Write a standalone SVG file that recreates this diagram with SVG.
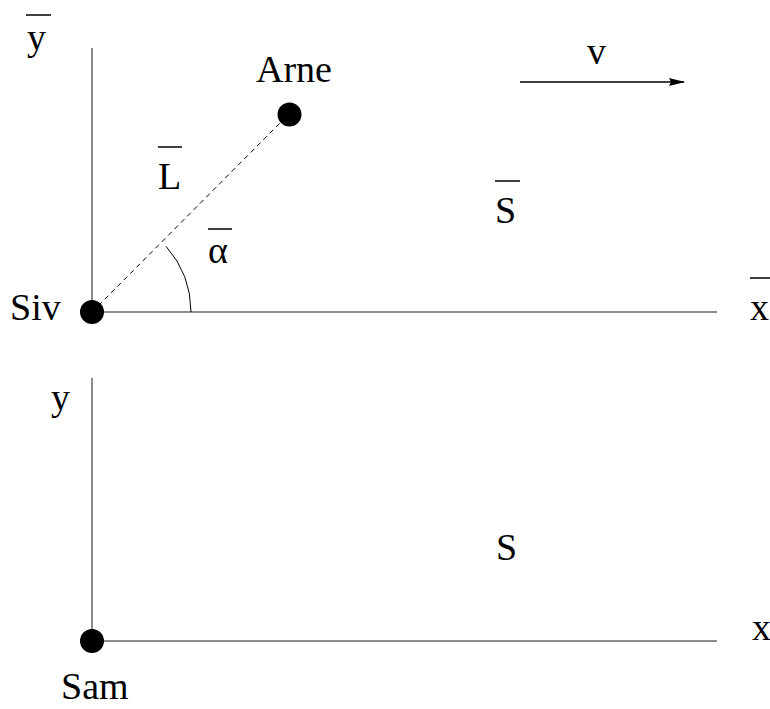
<svg xmlns="http://www.w3.org/2000/svg" width="770" height="709" viewBox="0 0 770 709">
<defs>
<style>
text{font-family:"Liberation Serif","Times New Roman",serif;font-size:38px;fill:#000}
.axis{stroke:#666;stroke-width:1.5;fill:none}
.thin{stroke:#000;stroke-width:1;fill:none}
.ov{stroke:#000;stroke-width:1.5}
.dot{fill:#000}
</style>
<marker id="arr" viewBox="0 0 16 8" refX="15" refY="4" markerWidth="16" markerHeight="8" markerUnits="userSpaceOnUse" orient="auto">
<path d="M0,0 L16,4 L0,8 L2,4 Z" fill="#000"/>
</marker>
</defs>
<rect width="770" height="709" fill="#fff"/>
<g id="connectors">
<line class="axis" x1="92" y1="48" x2="92" y2="312"/>
<line class="axis" x1="92" y1="312" x2="717" y2="312"/>
<line class="axis" x1="92" y1="378" x2="92" y2="641"/>
<line class="axis" x1="92" y1="641" x2="717" y2="641"/>
<line class="thin" x1="92" y1="312" x2="289" y2="114" stroke-dasharray="5,4"/>
<path class="thin" d="M166.1,246.4 A99,99 0 0 1 191,312"/>
<line x1="520" y1="82" x2="684" y2="82" stroke="#000" stroke-width="1.5" marker-end="url(#arr)"/>
</g>
<g id="Siv">
<circle class="dot" cx="92" cy="312" r="12"/>
<text x="10" y="320">Siv</text>
</g>
<g id="Arne">
<circle class="dot" cx="289.5" cy="114.5" r="12"/>
<text x="256" y="82">Arne</text>
</g>
<g id="Sam">
<circle class="dot" cx="92" cy="641" r="12"/>
<text x="61" y="699">Sam</text>
</g>
<g id="labels">
<text x="27" y="50">y</text><line class="ov" x1="26" y1="15" x2="51" y2="15"/>
<text x="158" y="189">L</text><line class="ov" x1="158" y1="147" x2="182" y2="147"/>
<text x="208" y="263">α</text><line class="ov" x1="208" y1="229" x2="232" y2="229"/>
<text x="495" y="223">S</text><line class="ov" x1="495" y1="181" x2="520" y2="181"/>
<text x="587" y="64">v</text>
<text x="750" y="320">x</text><line class="ov" x1="750" y1="278" x2="770" y2="278"/>
<text x="51" y="410">y</text>
<text x="496" y="560">S</text>
<text x="752" y="640">x</text>
</g>
</svg>
